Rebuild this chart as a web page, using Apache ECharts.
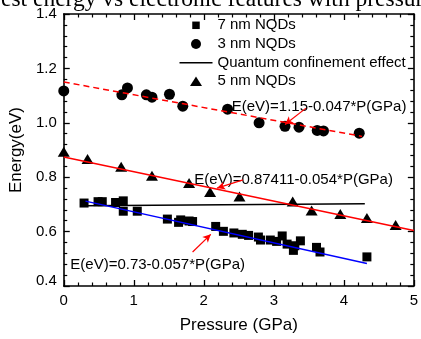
<!DOCTYPE html>
<html>
<head>
<meta charset="utf-8">
<script src="https://cdn.jsdelivr.net/npm/echarts@6/dist/echarts.min.js"></script>
<style>
html, body { margin: 0; padding: 0; background: #fff; }
#chart { width: 421px; height: 339px; }
</style>
</head>
<body>
<div id="chart"></div>
<script>
// measured points, pressure (GPa) vs energy (eV)
const nqd7 = [
	[0.29, 0.705], [0.49, 0.710], [0.55, 0.710], [0.74, 0.707], [0.85, 0.713],
	[0.85, 0.675], [1.05, 0.675], [1.48, 0.646], [1.64, 0.634], [1.67, 0.643],
	[1.79, 0.639], [1.84, 0.637], [2.17, 0.619], [2.28, 0.601], [2.43, 0.595],
	[2.55, 0.590], [2.64, 0.586], [2.78, 0.580], [2.81, 0.569], [2.95, 0.569],
	[3.04, 0.564], [3.12, 0.584], [3.19, 0.554], [3.28, 0.531], [3.30, 0.548],
	[3.38, 0.566], [3.61, 0.542], [3.66, 0.525], [4.33, 0.507]
];
const nqd3 = [
	[0, 1.117], [0.83, 1.103], [0.91, 1.128], [1.18, 1.103], [1.26, 1.094],
	[1.51, 1.105], [1.70, 1.061], [2.34, 1.050], [2.79, 1.000], [3.16, 0.987],
	[3.36, 0.984], [3.62, 0.972], [3.71, 0.970], [4.22, 0.962]
];
const nqd5 = [
	[0, 0.894], [0.34, 0.867], [0.82, 0.838], [1.26, 0.805], [1.79, 0.779],
	[2.09, 0.746], [2.51, 0.729], [3.27, 0.711], [3.54, 0.678], [3.95, 0.665],
	[4.33, 0.650], [4.74, 0.624]
];

// fitted lines (end points)
const fit7 = [[0.31, 0.712], [4.33, 0.483]];
const fit3 = [[0, 1.15], [4.26, 0.95]];
const fit5 = [[0, 0.874], [5, 0.604]];
const quantum = [[0.3, 0.695], [4.3, 0.702]];

const xRange = [0, 5];
const yRange = [0.4, 1.4];

const labels = {
	fit3: "E(eV)=1.15-0.047*P(GPa)",
	fit5: "E(eV)=0.87411-0.054*P(GPa)",
	fit7: "E(eV)=0.73-0.057*P(GPa)"
};

// arrows: [from, to] in data coords
const arrow3 = [[3.46, 1.054], [3.16, 0.994]];
const arrow5 = [[2.56, 0.790], [2.19, 0.760]];
const arrow7 = [[1.84, 0.525], [2.10, 0.590]];

const font = '"Liberation Sans", Arial, sans-serif';
const black = "#000";

// legend icons padded to the full 33x10 box so they sit centred
const icons = {
	square: "path://M0,0M33,10M12.75,1.25H20.25V8.75H12.75Z",
	circle: "path://M0,0M33,10M11.5,5A5,5,0,1,0,21.5,5A5,5,0,1,0,11.5,5Z",
	line: "path://M0,0M33,10M0,4.25H33V5.75H0Z",
	triangle: "path://M0,0M33,10M16.5,0.5L22.5,10H10.5Z"
};

const chart = echarts.init(document.getElementById("chart"), null, { renderer: "canvas" });

function frameAxis(pos, range, interval, extra) {
	return Object.assign({
		type: "value",
		position: pos,
		min: range[0],
		max: range[1],
		interval: interval,
		axisLine: { show: true, onZero: false, lineStyle: { color: black, width: 1.6 } },
		axisTick: { show: true, inside: true, length: 6, lineStyle: { color: black, width: 1.3 } },
		minorTick: { show: true, splitNumber: 5, length: 3.5, lineStyle: { color: black, width: 1.2 } },
		axisLabel: { show: false },
		splitLine: { show: false }
	}, extra || {});
}

function arrowLine(pts) {
	return {
		silent: true,
		symbol: ["none", "arrow"],
		symbolSize: [6, 8],
		label: { show: false },
		lineStyle: { color: "#ff0000", width: 1.2, type: "solid" },
		data: [[{ coord: pts[0] }, { coord: pts[1] }]]
	};
}

function legendRow(item, top) {
	return {
		data: [item],
		left: 179.5,
		top: top,
		padding: 0,
		itemWidth: 33,
		itemHeight: 10,
		selectedMode: false,
		textStyle: { fontFamily: font, fontSize: 15, color: black, lineHeight: 16 }
	};
}

const option = {
	animation: false,
	backgroundColor: "#fff",
	grid: { left: 62.7, right: 7, top: 14, bottom: 42 },
	xAxis: [
		frameAxis("bottom", xRange, 1, {
			axisLabel: { show: true, margin: 7, fontSize: 15, fontFamily: font, color: black },
			name: "Pressure (GPa)",
			nameLocation: "middle",
			nameGap: 31,
			nameTextStyle: { fontSize: 17, fontFamily: font, color: black }
		}),
		frameAxis("top", xRange, 1)
	],
	yAxis: [
		frameAxis("left", yRange, 0.2, {
			axisLabel: {
				show: true, margin: 7, fontSize: 15, fontFamily: font, color: black,
				formatter: (v) => Math.abs(v - 0.4) < 1e-6 ? "{lo|0.4}" : v.toFixed(1),
				rich: { lo: { fontSize: 15, fontFamily: font, color: black, padding: [0, 0, 10, 0] } }
			},
			name: "Energy(eV)",
			nameLocation: "middle",
			nameGap: 28,
			nameTextStyle: { fontSize: 17, fontFamily: font, color: black }
		}),
		frameAxis("right", yRange, 0.2)
	],
	legend: [
		legendRow({ name: "7 nm NQDs", icon: icons.square }, 17.3),
		legendRow({ name: "3 nm NQDs", icon: icons.circle }, 36),
		legendRow({ name: "Quantum confinement effect", icon: icons.line }, 54.7),
		legendRow({ name: "5 nm NQDs", icon: icons.triangle }, 73)
	],
	series: [
		{ name: "7 nm NQDs", type: "scatter", data: nqd7, symbol: "rect", symbolSize: 9, itemStyle: { color: black, opacity: 1 } },
		{ name: "3 nm NQDs", type: "scatter", data: nqd3, symbol: "circle", symbolSize: 11, itemStyle: { color: black, opacity: 1 } },
		{ name: "5 nm NQDs", type: "scatter", data: nqd5, symbol: "triangle", symbolSize: [12, 10], itemStyle: { color: black, opacity: 1 } },
		{
			name: "Quantum confinement effect", type: "line", data: quantum, symbol: "none",
			lineStyle: { color: black, width: 1.5 }, itemStyle: { color: black }
		},
		{
			name: "fit3", type: "line", data: fit3, symbol: "none",
			lineStyle: { color: "#ff0000", width: 1.5, type: [6, 4] },
			markLine: arrowLine(arrow3)
		},
		{
			name: "fit5", type: "line", data: fit5, symbol: "none",
			lineStyle: { color: "#ff0000", width: 1.5 },
			markLine: arrowLine(arrow5)
		},
		{
			name: "fit7", type: "line", data: fit7, symbol: "none",
			lineStyle: { color: "#0000ff", width: 1.5 },
			markLine: arrowLine(arrow7)
		}
	],
	graphic: [
		{
			type: "text", x: -16, y: 12,
			style: { text: "west energy vs electronic features with pressure", font: '23.5px "Liberation Serif", serif', fill: black, verticalAlign: "bottom" }
		},
		{ type: "text", x: 231.7, y: 107.3, style: { text: labels.fit3, font: "15px " + font, fill: black, verticalAlign: "middle" } },
		{ type: "text", x: 194.3, y: 180, style: { text: labels.fit5, font: "15px " + font, fill: black, verticalAlign: "middle" } },
		{ type: "text", x: 70.3, y: 265, style: { text: labels.fit7, font: "15px " + font, fill: black, verticalAlign: "middle" } }
	]
};

chart.setOption(option);
</script>
</body>
</html>
